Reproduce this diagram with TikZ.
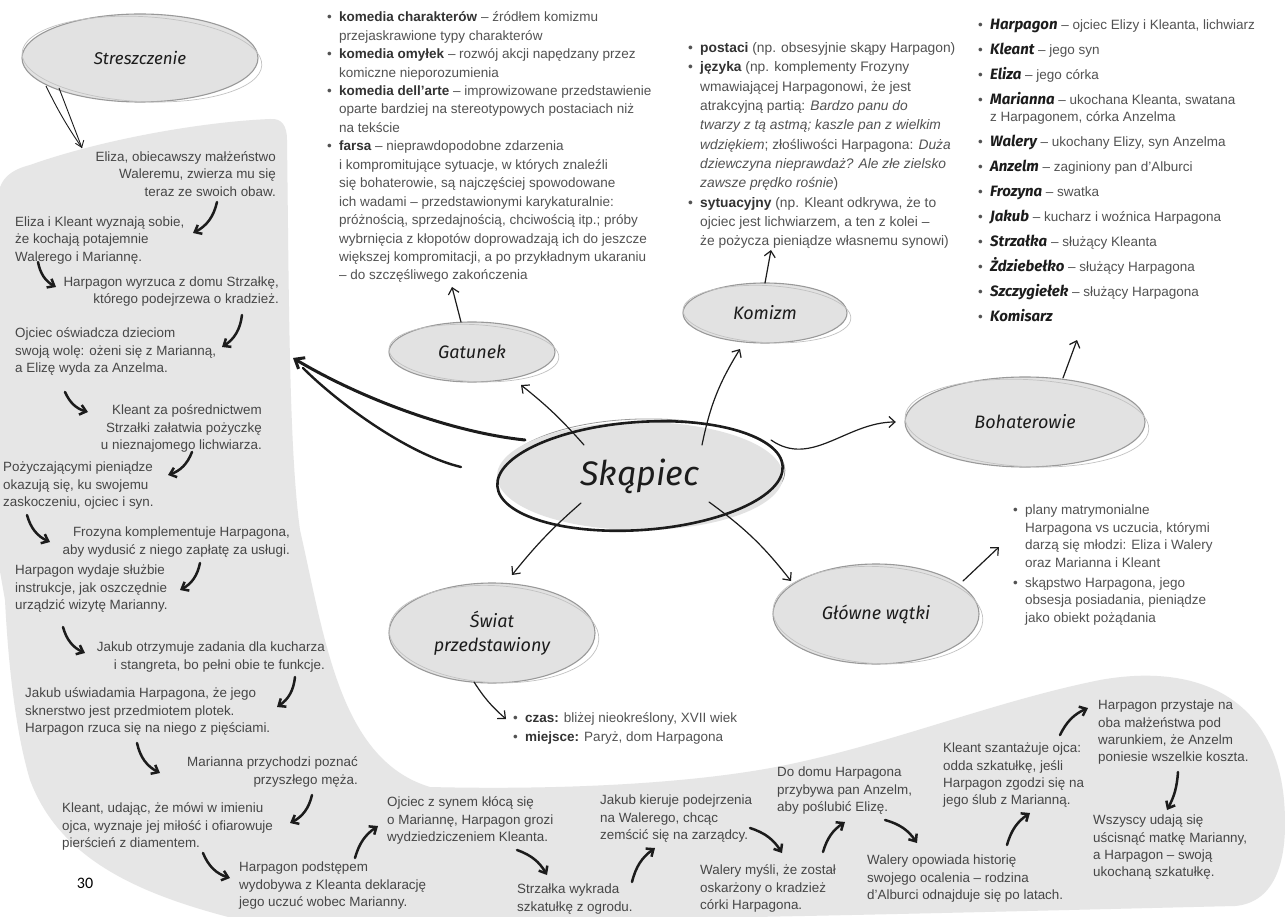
\documentclass[tikz,border=0pt]{standalone}
\usepackage{fontspec}
\setmainfont{Liberation Sans}
\newfontfamily\hand{Fira Sans}
\newfontfamily\pagefont{Carlito}
\usetikzlibrary{shapes.geometric,arrows.meta,calc}
\definecolor{band}{HTML}{E6E6E6}
\definecolor{ellfill}{HTML}{E2E2E2}
\definecolor{ellline}{HTML}{999999}
\definecolor{txt}{HTML}{464646}
\definecolor{notec}{HTML}{525252}
\definecolor{kwc}{HTML}{333333}
\definecolor{ink}{HTML}{1C1C1C}
\newcommand\ts{\rule{0pt}{12.5pt}}
\newcommand\bl{\makebox[12pt][l]{•}}
\newcommand\ind{\hspace*{12pt}}
\newcommand\kw[1]{\textbf{\color{kwc}#1}}
\newcommand\nm[1]{{\hand\bfseries\itshape\fontsize{15}{15}\selectfont\color{ink}#1}}
\newcommand\sketchell[6]{%
 \fill[ellfill] (#2,#3) ellipse [x radius=#4pt, y radius=#5pt];
 \draw[ellline, line width=1.1pt] (#2,#3) ellipse [x radius=#4pt, y radius=#5pt];
 \draw[ellline!60, line width=0.7pt, rotate around={-3:(#2,#3)}] (#2+2,#3+1) ellipse [x radius=#4pt+2pt, y radius=#5pt-1.5pt];
 \node[ellbox, minimum width=2*#4pt, minimum height=2*#5pt, head] (#1) at (#2,#3) {#6};
}
\tikzset{
 narr/.style={font=\fontsize{13.4}{17.3}\selectfont, text=txt, inner sep=0pt},
 nl/.style={narr, align=left, anchor=north west},
 nr/.style={narr, align=right, anchor=north east},
 notes/.style={font=\fontsize{13.5}{18.45}\selectfont, text=notec, inner sep=0pt, align=left, anchor=north west},
 head/.style={font=\hand\itshape\fontsize{18}{24}\selectfont, text=ink, align=center},
 ellbox/.style={ellipse, inner sep=0pt, draw=none},
 brush/.style={draw=ink, line width=2.5pt, line cap=round, -{Straight Barb[length=6pt,width=10pt]}},
 conn/.style={draw=ink, line width=1.2pt, line cap=round, -{Straight Barb[length=6pt,width=11pt]}},
}
\begin{document}
\begin{tikzpicture}[x=1pt,y=-1pt]
\useasboundingbox (0,0) rectangle (1285,917);
\fill[white] (0,0) rectangle (1285,917);
% gray band
\fill[band] (-2,200) .. controls (-2,180) and (10,170) .. (30,165)
 .. controls (100,140) and (200,122) .. (270,119)
 .. controls (282,118) and (287,126) .. (287,140)
 .. controls (289,300) and (289,450) .. (300,530)
 .. controls (325,640) and (340,760) .. (430,787)
 .. controls (550,790) and (700,785) .. (800,762)
 .. controls (900,740) and (1000,700) .. (1100,680)
 .. controls (1200,662) and (1275,700) .. (1284,800)
 .. controls (1290,870) and (1270,903) .. (1235,906)
 .. controls (900,914) and (600,922) .. (300,922)
 -- (240,922) -- (240,920)
 .. controls (140,895) and (60,860) .. (30,780)
 .. controls (15,730) and (8,660) .. (5,600)
 -- (-2,560) -- cycle;

% ellipses
\sketchell{str}{140}{58}{118}{44}{\fontsize{17}{20}\selectfont Streszczenie}
\sketchell{gat}{472}{352}{83}{30}{Gatunek}
\sketchell{kom}{765}{313}{82}{30}{Komizm}
\sketchell{boh}{1025}{422}{120}{45}{Bohaterowie}
\sketchell{sw}{492}{633}{103}{50}{Świat\\przedstawiony}
\sketchell{gl}{876}{614}{103}{50}{Główne wątki}
\draw[ellline, line width=0.8pt, rotate around={1:(640,476)}] (643,473) ellipse [x radius=142pt, y radius=54pt];
\node[ellbox, minimum width=286pt, minimum height=108pt, fill=ellfill, font=\hand\itshape\fontsize{34}{34}\selectfont, text=ink] (sk) at (640,476) {Skąpiec};
\draw[ink, line width=2.6pt, rotate around={4:(640,476)}] (640,476) ellipse [x radius=143pt, y radius=54pt];

% left column
\node[nr] (l1) at (276,149) {\ts Eliza, obiecawszy małżeństwo\\Waleremu, zwierza mu się\\teraz ze swoich obaw.};
\node[nl] (l2) at (15,214) {\ts Eliza i Kleant wyznają sobie,\\że kochają potajemnie\\Walerego i Mariannę.};
\node[nr] (l3) at (279,274) {\ts Harpagon wyrzuca z domu Strzałkę,\\którego podejrzewa o kradzież.};
\node[nl] (l4) at (15,325) {\ts Ojciec oświadcza dzieciom\\swoją wolę: ożeni się z Marianną,\\a Elizę wyda za Anzelma.};
\node[nr] (l5) at (262,402) {\ts Kleant za pośrednictwem\\Strzałki załatwia pożyczkę\\u nieznajomego lichwiarza.};
\node[nl] (l6) at (3,459) {\ts Pożyczającymi pieniądze\\okazują się, ku swojemu\\zaskoczeniu, ojciec i syn.};
\node[nr] (l7) at (290,524) {\ts Frozyna komplementuje Harpagona,\\aby wydusić z niego zapłatę za usługi.};
\node[nl] (l8) at (15,562) {\ts Harpagon wydaje służbie\\instrukcje, jak oszczędnie\\urządzić wizytę Marianny.};
\node[nr] (l9) at (325,639) {\ts Jakub otrzymuje zadania dla kucharza\\i stangreta, bo pełni obie te funkcje.};
\node[nl] (l10) at (25,685) {\ts Jakub uświadamia Harpagona, że jego\\sknerstwo jest przedmiotem plotek.\\Harpagon rzuca się na niego z pięściami.};
\node[nr] (l11) at (358,754) {\ts Marianna przychodzi poznać\\przyszłego męża.};
\node[nl] (l12) at (62,800) {\ts Kleant, udając, że mówi w imieniu\\ojca, wyznaje jej miłość i ofiarowuje\\pierścień z diamentem.};
\node[nl] (l13) at (239,859) {\ts Harpagon podstępem\\wydobywa z Kleanta deklarację\\jego uczuć wobec Marianny.};
% bottom band
\node[nl] (b1) at (387,794) {\ts Ojciec z synem kłócą się\\o Mariannę, Harpagon grozi\\wydziedziczeniem Kleanta.};
\node[nl] (b2) at (517,881) {\ts Strzałka wykrada\\szkatułkę z ogrodu.};
\node[nl] (b3) at (600,792) {\ts Jakub kieruje podejrzenia\\na Walerego, chcąc\\zemścić się na zarządcy.};
\node[nl] (b4) at (700,862) {\ts Walery myśli, że został\\oskarżony o kradzież\\córki Harpagona.};
\node[nl] (b5) at (777,764) {\ts Do domu Harpagona\\przybywa pan Anzelm,\\aby poślubić Elizę.};
\node[nl] (b6) at (867,852) {\ts Walery opowiada historię\\swojego ocalenia – rodzina\\d’Alburci odnajduje się po latach.};
\node[nl] (b7) at (943,740) {\ts Kleant szantażuje ojca:\\odda szkatułkę, jeśli\\Harpagon zgodzi się na\\jego ślub z Marianną.};
\node[nl] (b8) at (1098,697) {\ts Harpagon przystaje na\\oba małżeństwa pod\\warunkiem, że Anzelm\\poniesie wszelkie koszta.};
\node[nl] (b9) at (1093,812) {\ts Wszyscy udają się\\uścisnąć matkę Marianny,\\a Harpagon – swoją\\ukochaną szkatułkę.};
\node[font=\pagefont\fontsize{16}{16}\selectfont, text=black] (pg) at (85,883) {30};

% notes
\node[notes] (gatnote) at (327,9) {\ts\bl\kw{komedia charakterów} – źródłem komizmu\\
\ind przejaskrawione typy charakterów\\
\bl\kw{komedia omyłek} – rozwój akcji napędzany przez\\
\ind komiczne nieporozumienia\\
\bl\kw{komedia dell’arte} – improwizowane przedstawienie\\
\ind oparte bardziej na stereotypowych postaciach niż\\
\ind na tekście\\
\bl\kw{farsa} – nieprawdopodobne zdarzenia\\
\ind i kompromitujące sytuacje, w których znaleźli\\
\ind się bohaterowie, są najczęściej spowodowane\\
\ind ich wadami – przedstawionymi karykaturalnie:\\
\ind próżnością, sprzedajnością, chciwością itp.; próby\\
\ind wybrnięcia z kłopotów doprowadzają ich do jeszcze\\
\ind większej kompromitacji, a po przykładnym ukaraniu\\
\ind – do szczęśliwego zakończenia};
\node[notes, font=\fontsize{13.8}{19.3}\selectfont] (komnote) at (688,40) {\ts\bl\kw{postaci} (np. obsesyjnie skąpy Harpagon)\\
\bl\kw{języka} (np. komplementy Frozyny\\
\ind wmawiającej Harpagonowi, że jest\\
\ind atrakcyjną partią: \textit{Bardzo panu do}\\
\ind \textit{twarzy z tą astmą; kaszle pan z wielkim}\\
\ind \textit{wdziękiem}; złośliwości Harpagona: \textit{Duża}\\
\ind \textit{dziewczyna nieprawdaż? Ale złe zielsko}\\
\ind \textit{zawsze prędko rośnie})\\
\bl\kw{sytuacyjny} (np. Kleant odkrywa, że to\\
\ind ojciec jest lichwiarzem, a ten z kolei –\\
\ind że pożycza pieniądze własnemu synowi)};
\node[notes, font=\fontsize{13.5}{25}\selectfont] (bohnote) at (978,17) {\ts\bl\nm{Harpagon} – ojciec Elizy i Kleanta, lichwiarz\\
\bl\nm{Kleant} – jego syn\\
\bl\nm{Eliza} – jego córka\\
\bl\nm{Marianna} – ukochana Kleanta, swatana\\[-8pt]
\ind z Harpagonem, córka Anzelma\\
\bl\nm{Walery} – ukochany Elizy, syn Anzelma\\
\bl\nm{Anzelm} – zaginiony pan d’Alburci\\
\bl\nm{Frozyna} – swatka\\
\bl\nm{Jakub} – kucharz i woźnica Harpagona\\
\bl\nm{Strzałka} – służący Kleanta\\
\bl\nm{Żdziebełko} – służący Harpagona\\
\bl\nm{Szczygiełek} – służący Harpagona\\
\bl\nm{Komisarz}};
\node[notes, font=\fontsize{13.5}{19}\selectfont] (swnote) at (513,710) {\ts\bl\kw{czas:} bliżej nieokreślony, XVII wiek\\
\bl\kw{miejsce:} Paryż, dom Harpagona};
\node[notes, font=\fontsize{13.5}{17.5}\selectfont] (glnote) at (1013,502) {\ts\bl plany matrymonialne\\
\ind Harpagona vs uczucia, którymi\\
\ind darzą się młodzi: Eliza i Walery\\
\ind oraz Marianna i Kleant\\[2.5pt]
\bl skąpstwo Harpagona, jego\\
\ind obsesja posiadania, pieniądze\\
\ind jako obiekt pożądania};

% connectors from the centre
\draw[conn] ($(sk)+(-56,-31)$) to[bend right=5] ($(gat)+(49,33)$);
\draw[conn] ($(sk)+(62,-31)$) to[bend left=10] ($(kom)+(-25,36)$);
\draw[conn] ($(sk)+(131,-36)$) to[out=-35,in=180] ($(boh.west)+(-9,0)$);
\draw[conn] ($(sk)+(-59,27)$) to[bend right=5] ($(sw)+(20,-58)$);
\draw[conn] ($(sk)+(69,26)$) to[bend left=8] ($(gl)+(-85,-33)$);
\coordinate (strtip) at (293,358);
\draw[ink, line width=3pt, line cap=round, -{Straight Barb[length=8pt,width=13pt]}] ($(sk)+(-115,-36)$) .. controls (450,432) and (360,398) .. (strtip);
\draw[ink, line width=2.4pt, line cap=round] ($(sk)+(-179,-9)$) .. controls (410,455) and (340,405) .. ($(strtip)+(10,10)$);
% connectors to notes
\coordinate (tgat) at (452,287);
\coordinate (tkom) at (771,250);
\coordinate (tboh) at (1077,340);
\coordinate (tsw) at (506,719);
\coordinate (tgl) at (999,547);
\draw[conn] ($(gat)+(-11,-30)$) -- (tgat);
\draw[conn] ($(kom)+(0,-30)$) -- (tkom);
\draw[conn] ($(boh)+(38,-44)$) -- (tboh);
\draw[conn] ($(sw)+(-18,49)$) to[bend right=8] (tsw);
\draw[conn] ($(gl)+(87,-33)$) -- (tgl);
% Streszczenie pointer
\coordinate (tstr) at (82,148);
\draw[ink, line width=0.9pt] ($(str)+(-94,28)$) to[bend right=4] (tstr);
\draw[ink, line width=0.9pt, -{Straight Barb[length=6pt,width=9pt]}] ($(str)+(-81,30)$) -- (tstr);

% brush arrows between the events
\newcommand\brush[5]{\coordinate (#1s) at #2; \coordinate (#1e) at #3; \draw[brush] (#1s) to[#4=#5] (#1e);}
\brush{a1}{(217,202)}{(193,233)}{bend left}{25}
\brush{a2}{(38,262)}{(56,287)}{bend right}{25}
\brush{a3}{(242,315)}{(222,347)}{bend left}{25}
\brush{a4}{(65,392)}{(88,412)}{bend right}{25}
\brush{a5}{(192,452)}{(168,475)}{bend left}{25}
\brush{a6}{(27,515)}{(50,542)}{bend right}{25}
\brush{a7}{(200,563)}{(180,590)}{bend left}{25}
\brush{a8}{(63,627)}{(85,653)}{bend right}{25}
\brush{a9}{(295,677)}{(277,707)}{bend left}{25}
\brush{a10}{(137,743)}{(160,773)}{bend right}{25}
\brush{a11}{(312,795)}{(290,823)}{bend left}{25}
\brush{a12}{(203,853)}{(230,878)}{bend right}{25}
\brush{a13}{(355,858)}{(378,826)}{bend left}{20}
\brush{a14}{(517,850)}{(547,875)}{bend left}{20}
\brush{a15}{(632,882)}{(655,848)}{bend left}{20}
\brush{a16}{(750,828)}{(782,853)}{bend left}{20}
\brush{a17}{(823,852)}{(845,822)}{bend left}{20}
\brush{a18}{(885,820)}{(917,843)}{bend left}{20}
\brush{a19}{(1007,845)}{(1030,813)}{bend left}{20}
\brush{a20}{(1060,735)}{(1088,708)}{bend left}{20}
\brush{a21}{(1178,772)}{(1167,810)}{bend left}{12}
\end{tikzpicture}
\end{document}
